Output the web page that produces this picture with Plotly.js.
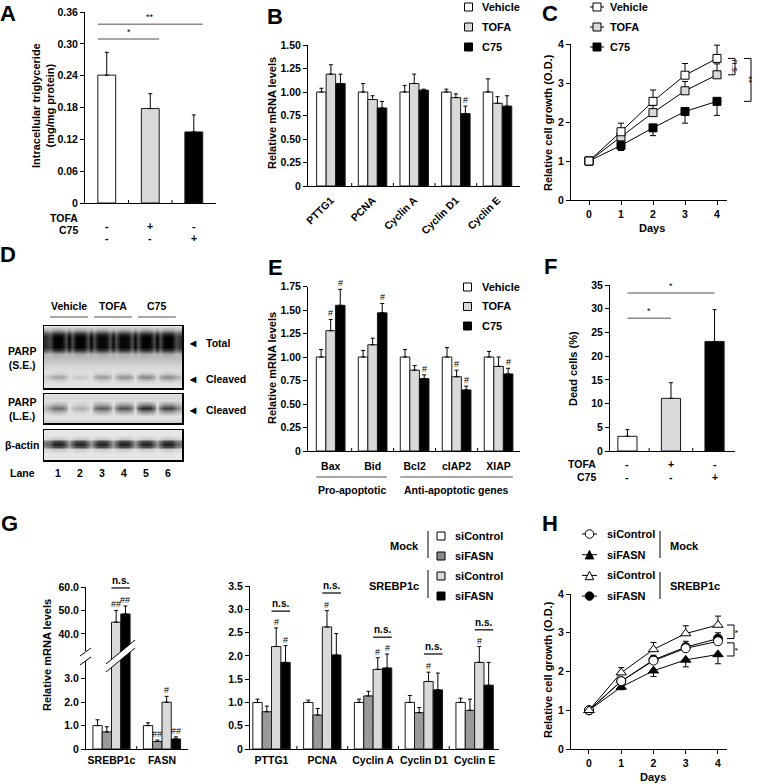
<!DOCTYPE html>
<html><head><meta charset="utf-8">
<script src="https://cdn.plot.ly/plotly-3.0.1.min.js"></script>
<style>html,body{margin:0;padding:0;background:#fff}#chart{width:760px;height:784px}</style>
</head><body><div id="chart"></div>
<script>
// ================= DATA =================
// A
const aGroups = ['Vehicle','TOFA','C75'];
const aTG = [0.241, 0.178, 0.134];
const aTGErr = [0.043, 0.028, 0.032];
const aTOFA = ['-','+','-'];
const aC75 = ['-','-','+'];
const aSigPairs = [[0,2],[0,1]];
const aSigLabels = ['**','*'];
const aSigLevels = [0.337, 0.309];
// B
const treatNames = ['Vehicle','TOFA','C75'];
const bGenes = ['PTTG1','PCNA','Cyclin A','Cyclin D1','Cyclin E'];
const bVehicle = [1.00,1.00,1.00,1.00,1.00];
const bVehicleErr = [0.04,0.09,0.07,0.03,0.14];
const bTOFA = [1.19,0.92,1.09,0.94,0.88];
const bTOFAErr = [0.10,0.04,0.10,0.04,0.07];
const bC75 = [1.09,0.83,1.02,0.77,0.85];
const bC75Err = [0.10,0.07,0.01,0.08,0.11];
const bMarkC75 = ['','','','#',''];
// C
const days = [0,1,2,3,4];
const cVehicle = [1.00,1.75,2.53,3.20,3.63];
const cVehicleErr = [0,0.22,0.29,0.30,0.34];
const cTOFA = [1.00,1.62,2.24,2.80,3.21];
const cTOFAErr = [0,0.12,0.18,0.24,0.28];
const cC75 = [1.00,1.40,1.85,2.27,2.53];
const cC75ErrDown = [0,0.13,0.20,0.30,0.36];
// D (western blot band intensities, 0..1)
const blotLanes = [1,2,3,4,5,6];
const blotGroups = ['Vehicle','TOFA','C75'];
const blotGroupLanes = [[1,2],[3,4],[5,6]];
const parpTotal = [1,1,0.98,0.98,1,1];
const parpCleavedSE = [0.32,0.18,0.36,0.40,0.44,0.42];
const parpCleavedLE = [0.55,0.28,0.62,0.68,0.85,0.75];
const actinBand = [0.88,0.85,0.86,0.88,0.86,0.88];
// E
const eGenes = ['Bax','Bid','Bcl2','cIAP2','XIAP'];
const eVehicle = [1,1,1,1,1];
const eVehicleErr = [0.08,0.07,0.08,0.10,0.06];
const eTOFA = [1.28,1.13,0.86,0.79,0.90];
const eTOFAErr = [0.12,0.07,0.05,0.07,0.10];
const eC75 = [1.55,1.47,0.77,0.65,0.82];
const eC75Err = [0.17,0.10,0.04,0.04,0.06];
const eMarkTOFA = ['#','','','#',''];
const eMarkC75 = ['#','#','#','#','#'];
const eClassNames = ['Pro-apoptotic','Anti-apoptotic genes'];
const eClassSpans = [[0,1],[2,4]];
// F
const fDead = [3.1, 11.1, 23.1];
const fDeadErr = [1.4, 3.3, 6.7];
const fTOFA = ['-','+','-'];
const fC75 = ['-','-','+'];
const fSigPairs = [[0,2],[0,1]];
const fSigLabels = ['*','*'];
const fSigLevels = [33.3, 28.0];
// G
const gNames = ['siControl','siFASN','siControl','siFASN'];
const gGroupNames = ['Mock','SREBP1c'];
const g1Genes = ['SREBP1c','FASN'];
const g1MockCtl = [1.00, 1.00];   const g1MockCtlErr = [0.25, 0.12];
const g1MockSi  = [0.73, 0.32];   const g1MockSiErr  = [0.22, 0.06];
const g1SrebCtl = [45.0, 2.00];   const g1SrebCtlErr = [5.0, 0.25];
const g1SrebSi  = [48.5, 0.43];   const g1SrebSiErr  = [3.4, 0.09];
const g1Marks = [['',''],['','##'],['##','#'],['##','##']];
const g1NsLevel = [59.6, null];
const g2Genes = ['PTTG1','PCNA','Cyclin A','Cyclin D1','Cyclin E'];
const g2MockCtl = [1.00,1.00,1.00,1.00,1.00]; const g2MockCtlErr = [0.07,0.05,0.07,0.15,0.09];
const g2MockSi  = [0.80,0.73,1.14,0.78,0.83]; const g2MockSiErr  = [0.12,0.14,0.10,0.11,0.24];
const g2SrebCtl = [2.20,2.62,1.71,1.45,1.86]; const g2SrebCtlErr = [0.40,0.35,0.25,0.20,0.34];
const g2SrebSi  = [1.86,2.02,1.74,1.27,1.37]; const g2SrebSiErr  = [0.36,0.46,0.30,0.36,0.49];
const g2Marks = [['','','','',''],['','','','',''],['#','#','#','#','#'],['#','','#','','']];
const g2NsLevel = [2.96,3.35,2.40,2.04,2.56];
// H
const hMockCtl = [1.00,1.75,2.28,2.60,2.78]; const hMockCtlErr = [0,0.08,0.10,0.12,0.14];
const hMockSi  = [1.00,1.60,2.02,2.30,2.44]; const hMockSiErrDown = [0,0.07,0.15,0.18,0.24];
const hSrebCtl = [1.00,1.97,2.57,2.98,3.20]; const hSrebCtlErr = [0,0.13,0.18,0.20,0.23];
const hSrebSi  = [1.00,1.75,2.30,2.63,2.85]; const hSrebSiErr = [0,0.08,0.12,0.15,0.15];

// ================= HELPERS =================
const W=760,H=784;
const px=x=>x/W, py=y=>1-y/H;
const FONT='Liberation Sans, Arial, Helvetica, sans-serif';
const WHITE='#ffffff', LGRAY='#d9d9d9', BLACK='#000000', MGRAY='#939393', EDGE='#1a1a1a';
const traces=[], shapes=[], annotations=[];
const layout={width:W,height:H,margin:{l:0,r:0,t:0,b:0},paper_bgcolor:'#fff',plot_bgcolor:'rgba(0,0,0,0)',
  showlegend:false,barmode:'overlay',font:{family:FONT,size:11,color:'#000',weight:'bold'}};
function f(size,extra){return Object.assign({family:FONT,size:size||11,color:'#000',weight:'bold'},extra||{});}
function txt(text,x,y,o){annotations.push(Object.assign({text,x:px(x),y:py(y),xref:'paper',yref:'paper',showarrow:false,xanchor:'center',yanchor:'middle',font:f(11)},o||{}));}
function seg(x0,y0,x1,y1,color,w){shapes.push({type:'line',xref:'paper',yref:'paper',x0:px(x0),y0:py(y0),x1:px(x1),y1:py(y1),line:{color:color||'#000',width:w||1},layer:'above'});}
function sq(x,y,s,fill){shapes.push({type:'rect',xref:'paper',yref:'paper',x0:px(x-s/2),x1:px(x+s/2),y0:py(y+s/2),y1:py(y-s/2),fillcolor:fill,line:{color:'#000',width:1},layer:'above'});}
function circ(x,y,s,fill){shapes.push({type:'circle',xref:'paper',yref:'paper',x0:px(x-s/2),x1:px(x+s/2),y0:py(y+s/2),y1:py(y-s/2),fillcolor:fill,line:{color:'#000',width:1},layer:'above'});}
function tri(x,y,s,fill){shapes.push({type:'path',xref:'paper',yref:'paper',path:`M ${px(x)},${py(y-s/2)} L ${px(x+s/2)},${py(y+s/2)} L ${px(x-s/2)},${py(y+s/2)} Z`,fillcolor:fill,line:{color:'#000',width:1},layer:'above'});}
const nm=i=>i===1?'':String(i);
function xAx(id,x0,x1,range,o){layout['xaxis'+nm(id)]=Object.assign({domain:[px(x0),px(x1)],range,anchor:'y'+nm(id),showline:true,linecolor:'#000',linewidth:1,showgrid:false,zeroline:false,ticks:'',showticklabels:false,tickfont:f(10.5),fixedrange:true},o||{});}
function yAx(id,top,bottom,range,vals,text,o){layout['yaxis'+nm(id)]=Object.assign({domain:[py(bottom),py(top)],range,anchor:'x'+nm(id),showline:true,linecolor:'#000',linewidth:1,showgrid:false,zeroline:false,ticks:'outside',ticklen:4,tickwidth:1,tickcolor:'#000',tickmode:'array',tickvals:vals,ticktext:text,tickfont:f(10.5),fixedrange:true},o||{});}
function boundaryTicks(xa,n,yPix){for(let i=0;i<n-1;i++)shapes.push({type:'line',xref:xa,yref:'paper',x0:i+0.5,x1:i+0.5,y0:py(yPix),y1:py(yPix-3),line:{color:'#000',width:1}});}
function groupedBars(xa,ya,series,errs,fills,bw,markerExtra){
  const n=series.length;
  series.forEach((vals,k)=>{
    const t={type:'bar',xaxis:xa,yaxis:ya,x:vals.map((_,i)=>i),y:vals,offset:-n*bw/2+k*bw,width:bw,
      marker:{color:fills[k],line:{color:EDGE,width:1}},
      error_y:{type:'data',symmetric:false,array:errs[k],arrayminus:vals.map(()=>0),color:'#000',thickness:1,width:2},
      hoverinfo:'skip',showlegend:false};
    if(markerExtra&&markerExtra[k])Object.assign(t.marker,markerExtra[k]);
    traces.push(t);
  });
}
function hashMarks(xa,ya,series,errs,marks,bw,filter){
  const n=series.length;
  marks.forEach((ml,k)=>{ if(!ml)return; const off=-n*bw/2+k*bw+bw/2;
    ml.forEach((m,i)=>{ if(!m)return; const top=series[k][i]+errs[k][i];
      if(filter&&!filter(top))return;
      annotations.push({text:m,xref:xa,yref:ya,x:i+off,y:top,yanchor:'bottom',yshift:-1,showarrow:false,font:f(9,{weight:'normal'})});});});
}
function sigLine(xa,ya,x0,x1,level,label,color,fs){
  shapes.push({type:'line',xref:xa,yref:ya,x0,x1,y0:level,y1:level,line:{color:color||'#888',width:1.5}});
  annotations.push({text:label,xref:xa,yref:ya,x:(x0+x1)/2,y:level,yanchor:'bottom',yshift:0,showarrow:false,font:f(fs||9,{weight:fs?'bold':'normal'})});
}
function yTicks(arr,fmt){return arr.map(v=>v===0?'0':fmt(v));}

// ================= PANEL A =================
xAx(1,85,216,[-0.5,2.51]);
yAx(1,12,203,[0,0.36],[0,0.06,0.12,0.18,0.24,0.30,0.36],yTicks([0,0.06,0.12,0.18,0.24,0.30,0.36],v=>v.toFixed(2)));
traces.push({type:'bar',xaxis:'x',yaxis:'y',x:aGroups.map((_,i)=>i),y:aTG,width:0.41,
  marker:{color:[WHITE,LGRAY,BLACK],line:{color:EDGE,width:1}},
  error_y:{type:'data',symmetric:false,array:aTGErr,arrayminus:aTG.map(()=>0),color:'#000',thickness:1,width:2},hoverinfo:'skip'});
boundaryTicks('x',3,203);
aSigPairs.forEach((p,j)=>sigLine('x','y',p[0]-0.205,p[1]+0.205,aSigLevels[j],aSigLabels[j],'#8a8a8a'));
txt('TOFA',80,218,{xanchor:'right',font:f(10.5)}); txt('C75',80,230,{xanchor:'right',font:f(10.5)});
aTOFA.forEach((s,i)=>annotations.push({text:s,xref:'x',yref:'paper',x:i,y:py(218),showarrow:false,font:f(10.5)}));
aC75.forEach((s,i)=>annotations.push({text:s,xref:'x',yref:'paper',x:i,y:py(230),showarrow:false,font:f(10.5)}));
txt('Intracellular triglyceride<br>(mg/mg protein)',43,106,{textangle:-90});

// ================= PANEL B =================
const BW3=0.228;
xAx(2,308,520,[-0.55,4.54],{showticklabels:true,tickmode:'array',tickvals:bGenes.map((_,i)=>i),ticktext:bGenes,tickangle:-45,ticks:'outside',ticklen:3,tickcolor:'rgba(0,0,0,0)'});
yAx(2,45,186,[0,1.5],[0,0.25,0.5,0.75,1,1.25,1.5],yTicks([0,0.25,0.5,0.75,1,1.25,1.5],v=>v.toFixed(2)));
groupedBars('x2','y2',[bVehicle,bTOFA,bC75],[bVehicleErr,bTOFAErr,bC75Err],[WHITE,LGRAY,BLACK],BW3);
hashMarks('x2','y2',[bVehicle,bTOFA,bC75],[bVehicleErr,bTOFAErr,bC75Err],[null,null,bMarkC75],BW3);
boundaryTicks('x2',5,186);
txt('Relative mRNA levels',272,113,{textangle:-90});
[WHITE,LGRAY,BLACK].forEach((c,k)=>{sq(468.5,7+20*k,8,c);txt(treatNames[k],480,7+20*k,{xanchor:'left'});});

// ================= PANEL C =================
xAx(3,571,727,[-0.5625,4.3125],{showticklabels:true,tickmode:'array',tickvals:days,ticktext:days.map(String),ticks:'outside',ticklen:4,tickcolor:'#000'});
yAx(3,44,200,[0,4],[0,1,2,3,4],['0','1','2','3','4']);
function lineTrace(xa,ya,y,err,errDown,symbol,fill,size){
  return {type:'scatter',mode:'lines+markers',xaxis:xa,yaxis:ya,x:days,y,line:{color:'#000',width:1},
    marker:{symbol,size:size||8,color:fill,line:{color:'#000',width:1}},
    error_y:{type:'data',symmetric:false,array:err,arrayminus:errDown,color:'#000',thickness:1,width:3},hoverinfo:'skip'};
}
const zeros5=days.map(()=>0);
traces.push(lineTrace('x3','y3',cC75,zeros5,cC75ErrDown,'square',BLACK));
traces.push(lineTrace('x3','y3',cTOFA,cTOFAErr,zeros5,'square',LGRAY));
traces.push(lineTrace('x3','y3',cVehicle,cVehicleErr,zeros5,'square',WHITE));
txt('Relative cell growth (O.D.)',548,123,{textangle:-90});
txt('Days',652,228);
[WHITE,LGRAY,BLACK].forEach((c,k)=>{seg(590,7+20*k,604,7+20*k);sq(597,7+20*k,8,c);txt(treatNames[k],608,7+20*k,{xanchor:'left'});});
function bracketC(ya,x0,x1,v0,v1,label,tx){
  shapes.push({type:'line',xref:'paper',yref:ya,x0:px(x0),x1:px(x1),y0:v0,y1:v0,line:{color:'#000',width:1}});
  shapes.push({type:'line',xref:'paper',yref:ya,x0:px(x0),x1:px(x1),y0:v1,y1:v1,line:{color:'#000',width:1}});
  shapes.push({type:'line',xref:'paper',yref:ya,x0:px(x1),x1:px(x1),y0:v0,y1:v1,line:{color:'#000',width:1}});
  annotations.push({text:label,xref:'paper',yref:ya,x:px(tx),y:(v0+v1)/2,showarrow:false,textangle:90,borderpad:0,font:f(9,{weight:'normal'})});
}
bracketC('y3',728,735,cVehicle[4],cTOFA[4],'n.s.',741);
bracketC('y3',744,751,cVehicle[4],cC75[4],'**',755);

// ================= PANEL D (blot) =================
function laneCols(vals,gap){
  const xs=[0.1],zs=[gap*vals[0]];
  const prof=[[-0.36,0.7],[-0.18,0.97],[0,1],[0.18,0.97],[0.36,0.7]];
  vals.forEach((v,i)=>{const L=blotLanes[i];
    if(i>0){xs.push(L-0.5);zs.push(gap*(vals[i-1]+v)/2);}
    prof.forEach(([d,m])=>{xs.push(L+d);zs.push(m*v);});});
  xs.push(6.9);zs.push(gap*vals[vals.length-1]);
  return {xs,zs};
}
function blotTrace(id,rows,bg,bands){
  const cols=bands.map(b=>laneCols(b.vals,b.gap));
  const xs=cols[0].xs;
  const z=rows.map((_,r)=>xs.map((_,c)=>{let v=bg[r];bands.forEach((b,k)=>{v=Math.max(v,b.w[r]*cols[k].zs[c]);});return v;}));
  traces.push({type:'heatmap',xaxis:'x'+id,yaxis:'y'+id,x:xs,y:rows,z,zsmooth:'best',zmin:0,zmax:1,
    colorscale:[[0,'#f0f0f0'],[1,'#000000']],showscale:false,hoverinfo:'skip'});
}
const blotBoxes=[[4,326,388],[5,394,423],[6,430,460]];
blotBoxes.forEach(([id,t,b])=>{
  xAx(id,44,182,[0.36,6.64],{mirror:true,linewidth:1.5});
  yAx(id,t,b,[b-t,0],undefined,undefined,{tickmode:'auto',ticks:'',showticklabels:false,mirror:true,linewidth:1.5});
});
blotTrace(4,[0,4,8,11,16,21,24,28,33,38,44,47,51,55,58,62],
  [.05,.06,.06,.06,.06,.06,.06,.22,.2,.13,.08,.07,.07,.07,.06,.05],
  [{vals:parpTotal,gap:0.97,w:[0,.35,.85,1,1,1,.8,.3,0,0,0,0,0,0,0,0]},
   {vals:parpCleavedSE,gap:0.15,w:[0,0,0,0,0,0,0,0,0,0,0,.35,1,.35,0,0]}]);
blotTrace(5,[0,3,6,10,14,18,22,25,28,29],
  [.06,.1,.07,.06,.06,.06,.05,.07,.14,.1],
  [{vals:parpCleavedLE,gap:0.15,w:[0,0,0,.45,1,.45,0,0,0,0]}]);
blotTrace(6,[0,5,9,11,14,17,19,24,30],
  [.04,.04,.05,.05,.05,.05,.05,.04,.04],
  [{vals:actinBand,gap:0.45,w:[0,0,.2,.8,1,.8,.2,0,0]}]);
blotGroups.forEach((g,j)=>{const [a,b]=blotGroupLanes[j];
  annotations.push({text:g,xref:'x4',yref:'paper',x:(a+b)/2,y:py(306),showarrow:false,font:f(10.5)});
  shapes.push({type:'line',xref:'x4',yref:'paper',x0:a-0.36,x1:b+0.36,y0:py(317),y1:py(317),line:{color:'#888',width:1.5}});});
blotLanes.forEach(l=>annotations.push({text:String(l),xref:'x4',yref:'paper',x:l,y:py(473),showarrow:false,font:f(10.5)}));
txt('PARP<br>(S.E.)',22,358,{font:f(10.5)});
txt('PARP<br>(L.E.)',22,409,{font:f(10.5)});
txt('β-actin',22,445,{font:f(10.5)});
txt('Lane',22,473,{font:f(10.5)});
[['Total',343],['Cleaved',379],['Cleaved',410]].forEach(([t,y])=>{txt('◀',193,y,{font:f(8)});txt(t,204,y,{xanchor:'left',font:f(10.5)});});

// ================= PANEL E =================
xAx(7,308,520,[-0.54,4.51],{showticklabels:true,tickmode:'array',tickvals:eGenes.map((_,i)=>i),ticktext:eGenes,ticks:'outside',ticklen:5,tickcolor:'rgba(0,0,0,0)'});
yAx(7,286.5,451,[0,1.75],[0,0.25,0.5,0.75,1,1.25,1.5,1.75],yTicks([0,0.25,0.5,0.75,1,1.25,1.5,1.75],v=>v.toFixed(2)));
groupedBars('x7','y7',[eVehicle,eTOFA,eC75],[eVehicleErr,eTOFAErr,eC75Err],[WHITE,LGRAY,BLACK],BW3);
hashMarks('x7','y7',[eVehicle,eTOFA,eC75],[eVehicleErr,eTOFAErr,eC75Err],[null,eMarkTOFA,eMarkC75],BW3);
boundaryTicks('x7',5,451);
eClassSpans.forEach(([a,b],j)=>{
  shapes.push({type:'line',xref:'x7',yref:'paper',x0:a-0.34,x1:b+0.34,y0:py(477),y1:py(477),line:{color:'#888',width:1.5}});
  annotations.push({text:eClassNames[j],xref:'x7',yref:'paper',x:(a+b)/2,y:py(490),showarrow:false,font:f(10.5)});});
txt('Relative mRNA levels',272,368,{textangle:-90});
[WHITE,LGRAY,BLACK].forEach((c,k)=>{sq(467.5,287+19.5*k,8,c);txt(treatNames[k],480,287+19.5*k,{xanchor:'left'});});

// ================= PANEL F =================
xAx(8,610,735,[-0.4,2.47]);
yAx(8,285,451,[0,35],[0,5,10,15,20,25,30,35],['0','5','10','15','20','25','30','35']);
traces.push({type:'bar',xaxis:'x8',yaxis:'y8',x:fDead.map((_,i)=>i),y:fDead,width:0.44,
  marker:{color:[WHITE,LGRAY,BLACK],line:{color:EDGE,width:1}},
  error_y:{type:'data',symmetric:false,array:fDeadErr,arrayminus:fDead.map(()=>0),color:'#000',thickness:1,width:2},hoverinfo:'skip'});
boundaryTicks('x8',3,451);
fSigPairs.forEach((p,j)=>sigLine('x8','y8',p[0],p[1],fSigLevels[j],fSigLabels[j],'#8a8a8a'));
txt('TOFA',598,464,{xanchor:'right',font:f(10.5)}); txt('C75',598,477,{xanchor:'right',font:f(10.5)});
fTOFA.forEach((s,i)=>annotations.push({text:s,xref:'x8',yref:'paper',x:i,y:py(464),showarrow:false,font:f(10.5)}));
fC75.forEach((s,i)=>annotations.push({text:s,xref:'x8',yref:'paper',x:i,y:py(477),showarrow:false,font:f(10.5)}));
txt('Dead cells (%)',573,369,{textangle:-90});

// ================= PANEL G (left, broken axis) =================
const BW4=0.184;
const gFills=[WHITE,MGRAY,LGRAY,BLACK];
const hatch={pattern:{shape:'x',fgcolor:'#5a5a5a',bgcolor:'#a0a0a0',size:3,solidity:0.25,fillmode:'overlay'}};
const gExtra=[null,hatch,null,null];
const g1S=[g1MockCtl,g1MockSi,g1SrebCtl,g1SrebSi], g1E=[g1MockCtlErr,g1MockSiErr,g1SrebCtlErr,g1SrebSiErr];
xAx(9,86,188,[-0.505,1.515],{showline:false});
yAx(9,587,656,[30.57,60],[40,50,60],['40.0','50.0','60.0']);
xAx(10,86,188,[-0.505,1.515],{showticklabels:true,tickmode:'array',tickvals:g1Genes.map((_,i)=>i),ticktext:g1Genes,ticks:'outside',ticklen:1,tickcolor:'rgba(0,0,0,0)'});
yAx(10,656,749,[0,3.974],[0,1,2,3],['0','1.0','2.0','3.0']);
groupedBars('x9','y9',g1S,g1E,gFills,BW4,gExtra);
groupedBars('x10','y10',g1S,g1E,gFills,BW4,gExtra);
hashMarks('x9','y9',g1S,g1E,g1Marks,BW4,v=>v>20);
hashMarks('x10','y10',g1S,g1E,g1Marks,BW4,v=>v<=20);
boundaryTicks('x10',2,749);
g1NsLevel.forEach((lv,i)=>{if(lv==null)return; sigLine('x9','y9',i,i+2*BW4,lv,'n.s.','#333',10);});
// axis break and bar break
shapes.push({type:'rect',xref:'paper',yref:'paper',x0:px(80),x1:px(92),y0:py(661),y1:py(651),fillcolor:'#fff',line:{width:0},layer:'above'});
seg(80,656,91,648); seg(80,665,91,657);
shapes.push({type:'path',xref:'paper',yref:'paper',path:`M ${px(106)},${py(664)} L ${px(135)},${py(640)} L ${px(135)},${py(648)} L ${px(106)},${py(672)} Z`,fillcolor:'#fff',line:{width:0},layer:'above'});
seg(106,664,135,640); seg(106,672,135,648);
txt('Relative mRNA levels',47,655,{textangle:-90});

// ================= PANEL G (right) =================
const g2S=[g2MockCtl,g2MockSi,g2SrebCtl,g2SrebSi], g2E=[g2MockCtlErr,g2MockSiErr,g2SrebCtlErr,g2SrebSiErr];
xAx(11,250,499,[-0.424,4.48],{showticklabels:true,tickmode:'array',tickvals:g2Genes.map((_,i)=>i),ticktext:g2Genes,ticks:'outside',ticklen:1,tickcolor:'rgba(0,0,0,0)'});
yAx(11,586,749,[0,3.5],[0,0.5,1,1.5,2,2.5,3,3.5],yTicks([0,0.5,1,1.5,2,2.5,3,3.5],v=>v.toFixed(1)));
groupedBars('x11','y11',g2S,g2E,gFills,BW4,gExtra);
hashMarks('x11','y11',g2S,g2E,g2Marks,BW4);
boundaryTicks('x11',5,749);
g2NsLevel.forEach((lv,i)=>sigLine('x11','y11',i,i+2*BW4,lv,'n.s.','#333',10));
// G legend
gFills.forEach((c,k)=>{sq(441,536+20*k,8,k===1?'#8c8c8c':c);txt(gNames[k],453,536+20*k,{xanchor:'left'});});
seg(428,531,428,558); seg(428,570,428,598);
txt(gGroupNames[0],421,546,{xanchor:'right'}); txt(gGroupNames[1],421,586,{xanchor:'right'});

// ================= PANEL H =================
xAx(12,571,727,[-0.558,4.28],{showticklabels:true,tickmode:'array',tickvals:days,ticktext:days.map(String),ticks:'outside',ticklen:4,tickcolor:'#000'});
yAx(12,594,749,[0,4],[0,1,2,3,4],['0','1','2','3','4']);
traces.push(lineTrace('x12','y12',hMockSi,zeros5,hMockSiErrDown,'triangle-up',BLACK,9));
traces.push(lineTrace('x12','y12',hSrebSi,hSrebSiErr,zeros5,'circle',BLACK,9));
traces.push(lineTrace('x12','y12',hMockCtl,hMockCtlErr,zeros5,'circle',WHITE,9));
traces.push(lineTrace('x12','y12',hSrebCtl,hSrebCtlErr,zeros5,'triangle-up',WHITE,9));
txt('Relative cell growth (O.D.)',548,670,{textangle:-90});
txt('Days',653,777);
const hSym=[['c',WHITE],['t',BLACK],['t',WHITE],['c',BLACK]];
hSym.forEach(([s,c],k)=>{const y=534+20.7*k; seg(582,y,597,y); (s==='c'?circ:tri)(589.5,y,8.5,c); txt(gNames[k],605,y,{xanchor:'left'});});
seg(660,531,660,558); seg(660,572,660,599);
txt(gGroupNames[0],668,546,{xanchor:'left'}); txt(gGroupNames[1],668,586,{xanchor:'left'});
bracketC('y12',727,734,hSrebCtl[4],hSrebSi[4],'*',741);
bracketC('y12',727,734,hMockCtl[4]-0.04,hMockSi[4]-0.04,'*',741);

// ================= PANEL LETTERS =================
[['A',8,13],['B',275,17],['C',550,13],['D',8,254],['E',275,267],['F',550,266],['G',9,523],['H',550,523]]
  .forEach(([t,x,y])=>txt(t,x,y,{font:f(22)}));

layout.shapes=shapes; layout.annotations=annotations;
Plotly.newPlot('chart',traces,layout,{staticPlot:true,displayModeBar:false});
</script></body></html>
